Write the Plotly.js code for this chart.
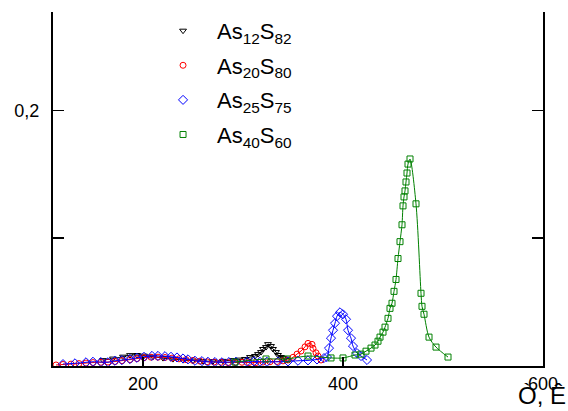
<!DOCTYPE html>
<html>
<head>
<meta charset="utf-8">
<script src="https://cdn.plot.ly/plotly-3.0.1.min.js"></script>
<style>
  html, body { margin: 0; padding: 0; background: #fff; }
  #chart { width: 568px; height: 411px; }
</style>
</head>
<body>
<div id="chart"></div>
<script>
// Absorption spectra of As–S samples, T in K on the horizontal axis.
const seriesNames = [
  'As<sub>12</sub>S<sub>82</sub>',
  'As<sub>20</sub>S<sub>80</sub>',
  'As<sub>25</sub>S<sub>75</sub>',
  'As<sub>40</sub>S<sub>60</sub>'
];

const as12x = [160, 170, 180, 187, 194, 201, 210, 220, 230, 240, 250, 260, 270, 280, 290, 296,
  302, 307, 312, 315, 318, 320, 323, 325, 328, 330, 333, 335, 338, 340, 344];
const as12y = [0.0046, 0.0058, 0.0073, 0.0085, 0.0086, 0.0081, 0.0073, 0.0062, 0.0054, 0.0046, 0.0042, 0.0038, 0.0038, 0.0040, 0.0046, 0.0050,
  0.0055, 0.0070, 0.0078, 0.0093, 0.0109, 0.0133, 0.0148, 0.0171, 0.0156, 0.0133, 0.0109, 0.0086, 0.0070, 0.0063, 0.0047];

const as20x = [113, 120, 128, 136, 143, 150, 158, 165, 172, 179, 187, 194, 201, 208, 215, 222, 229, 236, 243, 250,
  257, 264, 271, 278, 285, 292, 299, 306, 313, 320, 327, 334, 340, 345, 350, 354, 358, 362, 365, 369, 370, 373, 375, 378];
const as20y = [0.0008, 0.0012, 0.0015, 0.0019, 0.0023, 0.0027, 0.0029, 0.0031, 0.0035, 0.0042, 0.0050, 0.0058, 0.0065, 0.0069, 0.0069, 0.0067, 0.0062, 0.0056, 0.0050, 0.0044,
  0.0038, 0.0033, 0.0031, 0.0029, 0.0027, 0.0027, 0.0029, 0.0027, 0.0027, 0.0031, 0.0033, 0.0035, 0.0040, 0.0047, 0.0068, 0.0093, 0.0117, 0.0150, 0.0177, 0.0169, 0.0138, 0.0103, 0.0078, 0.0047];

const as25x = [120, 132, 143, 150, 158, 165, 172, 179, 187, 194, 201, 209, 215, 222, 228, 234, 240, 245, 252, 259, 265, 272, 279,
  286, 293, 304, 311, 317, 324, 335, 345, 355, 365, 374, 381, 384, 386, 388, 390, 392, 394, 397, 400, 403, 405, 408, 410, 414, 418, 424];
const as25y = [0.0015, 0.0021, 0.0029, 0.0033, 0.0031, 0.0029, 0.0041, 0.0046, 0.0054, 0.0064, 0.0072, 0.0079, 0.0079, 0.0077, 0.0072, 0.0067, 0.0059, 0.0052, 0.0041, 0.0038, 0.0033, 0.0031, 0.0029,
  0.0031, 0.0033, 0.0033, 0.0036, 0.0033, 0.0033, 0.0033, 0.0036, 0.0041, 0.0044, 0.0051, 0.0062, 0.0070, 0.0140, 0.0218, 0.0280, 0.0335, 0.0390, 0.0420, 0.0405, 0.0366, 0.0280, 0.0218, 0.0156, 0.0101, 0.0078, 0.0047];

const as40x = [292, 323, 344, 365, 388, 400, 412, 418, 423, 428, 432, 435, 437, 440, 442, 445, 447, 449, 451, 453, 455, 457,
  459, 460, 461, 462, 463, 464, 465, 467, 473, 478, 479, 481, 486, 493, 505];
const as40y = [0.0031, 0.0055, 0.0055, 0.0078, 0.0063, 0.0063, 0.0086, 0.0093, 0.0116, 0.0140, 0.0164, 0.0194, 0.0226, 0.0265, 0.0304, 0.0373, 0.0451, 0.0491, 0.0584, 0.0677, 0.0841, 0.0973,
  0.1105, 0.1253, 0.1323, 0.1370, 0.1440, 0.1510, 0.1580, 0.1620, 0.1269, 0.0569, 0.0467, 0.0405, 0.0226, 0.0148, 0.0070];

const xTickVals = [200, 400, 600];
const xTickText = ['200', '400', '600'];
const yTickVals = [0.1, 0.2];
const yTickText = ['', '0,2'];
const xTitle = 'Ò, Ê';

const colors = ['#000000', '#ff0000', '#0000ff', '#008000'];
const symbols = ['triangle-down-open', 'circle-open', 'diamond-open', 'square-open'];
const sizes = [6, 6, 7, 6];
const xs = [as12x, as20x, as25x, as40x];
const ys = [as12y, as20y, as25y, as40y];

const traces = [];
for (let i = 0; i < 4; i++) {
  traces.push({
    x: xs[i], y: ys[i], type: 'scatter', mode: 'lines',
    line: { color: colors[i], width: 1, shape: 'spline', smoothing: 0.8 },
    legendgroup: 'g' + i, showlegend: false, hoverinfo: 'skip'
  });
  traces.push({
    x: xs[i], y: ys[i], type: 'scatter', mode: 'markers',
    name: seriesNames[i], legendgroup: 'g' + i,
    marker: { symbol: symbols[i], size: sizes[i], color: colors[i], line: { width: 1, color: colors[i] } }
  });
}

const fontFam = 'Arial, "Liberation Sans", sans-serif';

const layout = {
  width: 568, height: 411,
  margin: { l: 53, r: 25, t: 10, b: 45 },
  paper_bgcolor: '#ffffff', plot_bgcolor: '#ffffff',
  font: { family: fontFam, size: 18, color: '#000' },
  showlegend: true,
  legend: {
    x: 0.196, y: 1.006, xanchor: 'left', yanchor: 'top',
    font: { family: fontFam, size: 22, color: '#000' },
    itemwidth: 58, tracegroupgap: 3, traceorder: 'grouped',
    bgcolor: 'rgba(0,0,0,0)', borderwidth: 0
  },
  xaxis: {
    range: [110, 600], showgrid: false, zeroline: false,
    showline: true, linecolor: '#000', linewidth: 2, mirror: false,
    ticks: 'inside', ticklen: 9, tickwidth: 1.5, tickcolor: '#000',
    tickvals: xTickVals, ticktext: xTickText,
    tickfont: { family: fontFam, size: 18, color: '#000' }
  },
  yaxis: {
    range: [0, 0.277], showgrid: false, zeroline: false,
    showline: true, linecolor: '#000', linewidth: 2, mirror: 'ticks',
    ticks: 'inside', ticklen: 11, tickwidth: 1.5, tickcolor: '#000',
    tickvals: yTickVals, ticktext: yTickText, ticklabelstandoff: 8,
    tickfont: { family: fontFam, size: 18, color: '#000' }
  },
  annotations: [{
    text: xTitle, xref: 'paper', yref: 'paper',
    x: 1.051, y: -0.084, xanchor: 'right', yanchor: 'middle',
    showarrow: false, font: { family: fontFam, size: 24, color: '#000' }
  }]
};

Plotly.newPlot('chart', traces, layout, { staticPlot: true, displayModeBar: false });
</script>
</body>
</html>
